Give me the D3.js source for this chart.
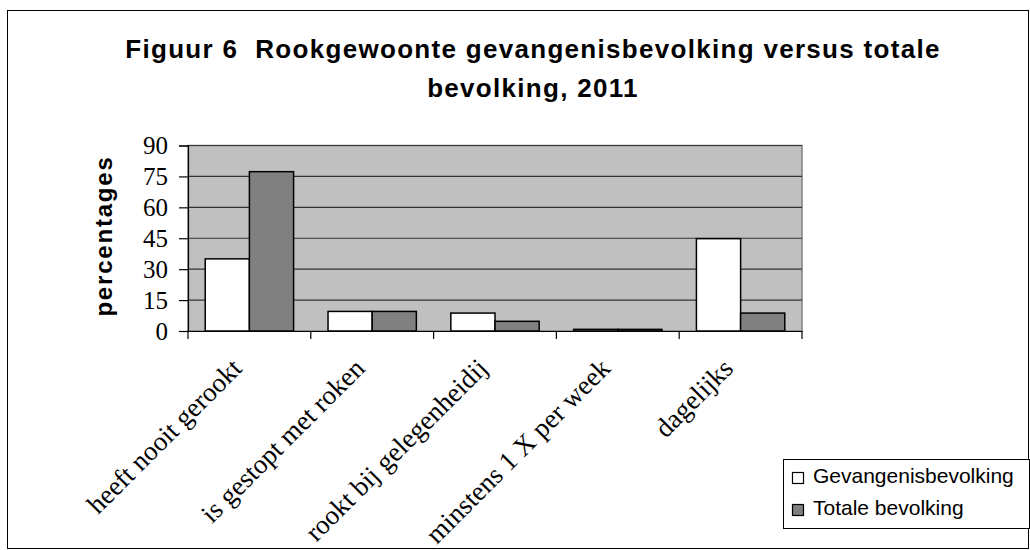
<!DOCTYPE html>
<html><head><meta charset="utf-8">
<script src="https://cdn.jsdelivr.net/npm/d3@7"></script>
<style>body{margin:0;background:#fff}</style>
</head><body>
<svg id="c" width="1030" height="550"></svg>
<script>
const categories = ["heeft nooit gerookt","is gestopt met roken","rookt bij gelegenheidij","minstens 1 X per week","dagelijks"];
const seriesNames = ["Gevangenisbevolking","Totale bevolking"];
const gevangenis = [35, 9.5, 8.7, 0.8, 44.8];
const totale = [77.3, 9.5, 4.7, 0.8, 8.7];
const yTicks = [0,15,30,45,60,75,90];
const colors = ["#ffffff","#808080"];

const svg = d3.select("#c");
const m = {left:188, right:802, top:145.5, bottom:331};

svg.append("rect").attr("x",7.5).attr("y",10.5).attr("width",1021).attr("height",538)
  .attr("fill","#fff").attr("stroke","#000").attr("stroke-width",1);

const x = d3.scaleBand().domain(categories).range([m.left,m.right]).paddingInner(0).paddingOuter(0);
const x1 = d3.scaleBand().domain(seriesNames).range([0,x.bandwidth()]).paddingInner(0).paddingOuter(0.39);
const y = d3.scaleLinear().domain([0,90]).range([m.bottom,m.top]);

svg.append("rect").attr("x",m.left).attr("y",m.top).attr("width",m.right-m.left).attr("height",m.bottom-m.top)
  .attr("fill","#c0c0c0").attr("stroke","#808080").attr("stroke-width",1.5);

svg.append("g").selectAll("line").data(yTicks.filter(d=>d>0)).join("line")
  .attr("x1",m.left).attr("x2",m.right).attr("y1",d=>y(d)).attr("y2",d=>y(d))
  .attr("stroke","#333").attr("stroke-width",1.2);

const data = [gevangenis, totale];
const g = svg.append("g");
categories.forEach((c,i)=>{
  seriesNames.forEach((s,j)=>{
    const v = data[j][i];
    g.append("rect").attr("x",x(c)+x1(s)).attr("y",y(v)).attr("width",x1.bandwidth()).attr("height",y(0)-y(v))
      .attr("fill",colors[j]).attr("stroke","#000").attr("stroke-width",1.5);
  });
});

// Y axis
const ya = svg.append("g").attr("transform",`translate(${m.left},0)`)
  .call(d3.axisLeft(y).tickValues(yTicks).tickSize(9).tickPadding(11));
ya.select(".domain").attr("stroke","#000").attr("stroke-width",1.2);
ya.selectAll(".tick line").attr("stroke","#000").attr("stroke-width",1.2);
ya.selectAll(".tick text").attr("font-family","'Liberation Serif','Times New Roman',serif").attr("font-size",25).attr("fill","#000");

// X axis
const xa = svg.append("g").attr("transform",`translate(0,${m.bottom})`)
  .call(d3.axisBottom(x).tickSize(0).tickFormat(""));
xa.select(".domain").attr("stroke","#000").attr("stroke-width",1.2);
const bounds = categories.map(c=>x(c)).concat([m.right]);
svg.append("g").selectAll("line").data(bounds).join("line")
  .attr("x1",d=>d).attr("x2",d=>d).attr("y1",m.bottom).attr("y2",m.bottom+8)
  .attr("stroke","#000").attr("stroke-width",1.2);
svg.append("g").selectAll("text").data(categories).join("text")
  .attr("transform",d=>`translate(${x(d)+x.bandwidth()/2-6},${m.bottom+39}) rotate(-45)`)
  .attr("text-anchor","end")
  .attr("font-family","'Liberation Serif','Times New Roman',serif").attr("font-size",27).attr("fill","#000")
  .text(d=>d);

// Y label
svg.append("text").attr("transform",`translate(112,236) rotate(-90)`).attr("text-anchor","middle")
  .attr("font-family","'Liberation Sans',Arial,sans-serif").attr("font-weight","bold").attr("font-size",24)
  .attr("letter-spacing",1.8)
  .text("percentages");

// Title
const title = svg.append("text").attr("text-anchor","middle")
  .attr("font-family","'Liberation Sans',Arial,sans-serif").attr("font-weight","bold").attr("font-size",26)
  .attr("letter-spacing",1.3);
title.append("tspan").attr("x",533).attr("y",58).text("Figuur 6\u00a0 Rookgewoonte gevangenisbevolking versus totale");
title.append("tspan").attr("x",533).attr("y",97).text("bevolking, 2011");

// Legend
const lg = svg.append("g");
lg.append("rect").attr("x",783.5).attr("y",459.5).attr("width",246).attr("height",69).attr("fill","#fff").attr("stroke","#000").attr("stroke-width",1);
seriesNames.forEach((s,i)=>{
  const yy = 483 + i*32;
  lg.append("rect").attr("x",792.5).attr("y",yy-10.5).attr("width",11).attr("height",11).attr("fill",colors[i]).attr("stroke","#000").attr("stroke-width",1.2);
  lg.append("text").attr("x",813).attr("y",yy).attr("font-family","'Liberation Sans',Arial,sans-serif").attr("font-size",21).text(s);
});
</script>
</body></html>
